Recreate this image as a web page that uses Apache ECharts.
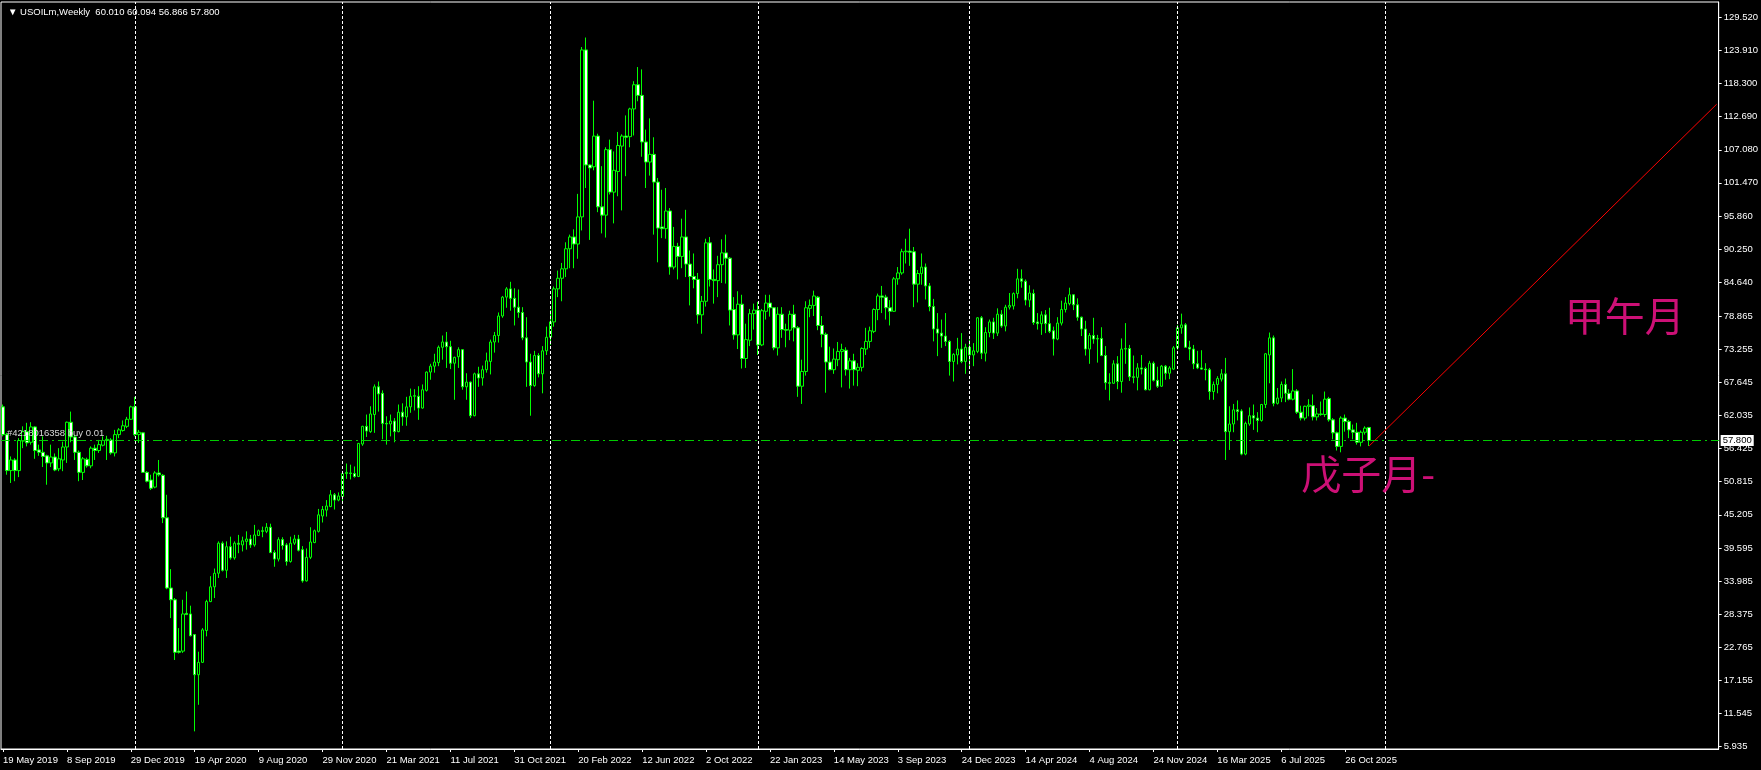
<!DOCTYPE html>
<html><head><meta charset="utf-8">
<script src="https://cdn.jsdelivr.net/npm/echarts@6/dist/echarts.min.js"></script>
<style>html,body{margin:0;padding:0;background:#000;}#c{width:1761px;height:770px;}</style>
</head><body><div id="c"></div><script>
const titleText = '\u25BC USOILm,Weekly  60.010 60.094 56.866 57.800';
const tickLabels = ['19 May 2019','8 Sep 2019','29 Dec 2019','19 Apr 2020','9 Aug 2020','29 Nov 2020','21 Mar 2021','11 Jul 2021','31 Oct 2021','20 Feb 2022','12 Jun 2022','2 Oct 2022','22 Jan 2023','14 May 2023','3 Sep 2023','24 Dec 2023','14 Apr 2024','4 Aug 2024','24 Nov 2024','16 Mar 2025','6 Jul 2025','26 Oct 2025'];
const weeksPerLabel = 16;
const yTicks = [5.935,11.545,17.155,22.765,28.375,33.985,39.595,45.205,50.815,56.425,62.035,67.645,73.255,78.865,84.640,90.250,95.860,101.470,107.080,112.690,118.300,123.910,129.520];
const totalSlots = 430;
const yearSeparators = [33, 85, 137, 189, 242, 294, 346];
const orderPrice = 57.8;
const orderText = '#4218016358 buy 0.01';
const trendLine = [[342, 56.866], [429, 114.8]];
const notes = [{text: '\u7532\u5348\u6708', at: [391, 82.3]}, {text: '\u620A\u5B50\u6708-', at: [325, 55.6]}];

const opens = [63.5,58.8,52.7,54.5,52.7,57.7,59.3,57.5,60.1,56.2,55.8,55.2,54.0,55.0,53.0,54.5,56.7,60.9,58.4,55.8,
52.4,54.6,53.5,56.5,56.1,57.0,57.8,57.9,55.7,58.8,59.5,60.2,61.4,63.5,58.8,59.1,52.4,51.1,49.9,52.3,
51.9,44.7,32.8,30.8,22.1,22.1,28.5,28.4,24.9,18.1,20.2,25.6,30.5,33.0,35.3,40.4,35.8,39.8,37.9,40.4,
40.1,40.7,41.1,40.1,41.7,42.5,42.4,43.1,38.8,37.7,41.0,40.1,37.3,40.4,41.1,39.3,34.0,38.0,40.5,42.4,
45.0,46.0,46.6,48.6,47.7,48.3,52.2,52.3,52.2,51.7,57.2,60.2,59.3,62.2,66.9,65.8,60.7,60.6,61.1,59.3,
62.6,61.8,63.5,65.3,65.3,63.3,66.3,69.4,70.4,71.0,73.6,74.5,73.7,70.9,72.0,73.2,66.9,67.7,62.0,69.1,
68.4,69.8,71.2,74.5,75.6,78.9,82.1,83.5,81.9,80.4,79.5,75.2,71.1,67.1,72.2,69.1,73.0,75.3,77.9,83.5,
85.3,86.9,90.3,92.3,91.1,95.7,124.0,104.5,104.2,109.4,97.4,96.0,107.1,99.9,103.4,107.7,109.4,109.3,114.0,118.1,
116.3,108.4,105.0,106.3,101.6,94.0,93.7,96.7,87.2,90.7,89.0,92.3,87.7,85.6,85.1,79.1,81.4,91.3,85.1,84.9,
87.6,89.6,88.7,80.0,75.7,80.9,71.7,74.8,79.3,79.9,74.0,79.7,81.1,80.3,73.5,79.2,76.6,76.5,79.2,76.9,
67.0,69.5,80.2,80.7,82.1,77.3,75.8,71.1,69.8,71.5,72.9,73.1,69.8,71.3,69.7,70.2,73.3,74.6,76.3,80.0,
82.3,82.1,80.3,79.7,85.2,86.2,89.8,89.9,89.8,84.3,86.1,87.2,84.0,80.5,76.7,76.0,75.5,74.6,71.2,72.3,
73.3,71.2,73.6,72.3,72.9,78.6,72.6,76.1,77.9,76.0,79.2,77.2,80.4,80.6,82.7,85.2,84.8,81.6,82.7,77.9,
77.6,79.1,77.6,76.4,75.0,77.7,80.0,81.0,82.5,80.8,78.7,76.7,73.3,75.6,75.0,75.1,72.2,67.6,67.5,70.8,
67.8,73.3,73.4,68.6,68.5,70.1,70.0,66.4,70.9,68.0,67.0,70.4,69.2,69.9,73.5,76.9,77.4,73.6,73.3,70.8,
70.1,69.9,69.8,66.1,67.3,68.2,69.1,59.3,60.6,63.0,62.8,55.5,60.6,62.0,61.6,61.2,63.9,72.3,75.2,64.1,
65.0,67.3,65.8,64.8,66.2,62.6,61.6,63.6,63.7,61.8,62.3,62.2,64.9,61.3,59.1,56.8,61.6,61.0,59.6,59.2,
57.5,59.2,60.010];
const highs = [63.9,59.1,55.1,54.8,58.2,60.2,60.8,60.9,60.2,57.1,58.5,55.4,57.1,55.6,56.5,57.6,61.0,62.7,58.8,56.1,
55.0,54.9,56.8,57.1,57.9,58.5,58.6,58.2,59.6,59.9,61.2,61.8,63.7,65.2,59.6,59.2,52.6,52.0,52.6,54.5,
52.1,48.6,36.0,31.1,26.0,30.8,32.2,29.8,25.0,22.0,26.0,30.8,34.8,36.1,40.7,40.7,40.7,41.5,40.7,41.8,
41.5,42.4,41.8,43.5,42.7,43.2,43.8,43.7,39.2,41.4,41.4,40.4,41.5,41.8,41.8,39.9,39.5,43.1,42.7,46.2,
46.7,47.7,49.4,48.9,49.0,52.6,53.9,53.7,53.4,57.4,60.3,62.2,63.6,67.3,67.8,66.3,61.9,62.2,61.6,63.9,
64.1,65.2,66.6,66.5,67.0,67.3,69.5,70.8,72.5,73.9,75.6,76.2,74.7,72.0,73.6,73.3,69.2,67.8,69.3,70.3,
70.5,72.7,74.9,76.2,79.5,82.3,83.8,84.7,83.6,83.4,80.4,78.7,72.5,73.0,72.6,73.8,77.1,79.9,83.9,86.6,
87.9,91.4,92.7,93.6,99.6,124.5,126.1,104.6,115.4,109.8,104.3,107.5,108.8,106.8,110.1,109.7,112.9,114.2,118.7,121.1,
120.7,110.5,112.4,109.2,102.3,100.3,100.6,97.2,94.0,91.3,95.4,96.9,90.0,89.5,86.2,82.3,92.0,92.3,86.8,89.1,
91.9,92.7,88.9,82.1,83.1,82.5,77.6,80.1,81.0,81.3,80.1,82.5,82.5,80.4,80.4,80.4,77.6,79.8,80.8,77.2,
71.5,81.4,81.7,83.2,82.3,78.9,76.1,73.7,73.4,74.5,74.2,73.6,71.8,72.5,70.9,73.6,76.9,77.1,80.2,82.7,
84.0,82.5,81.6,85.5,87.2,90.3,92.0,93.7,90.6,86.7,89.5,87.8,84.5,81.8,79.4,78.3,79.4,74.8,72.6,75.2,
76.0,74.2,74.9,74.3,78.7,78.9,77.0,78.3,78.6,80.2,79.9,80.8,82.8,82.9,86.9,86.8,85.1,84.1,83.4,79.4,
79.7,79.9,80.3,77.1,78.7,81.5,82.1,83.7,82.6,81.9,78.8,78.1,76.0,78.6,75.7,77.0,73.8,69.2,71.4,72.1,
75.1,77.7,74.0,72.2,70.9,72.3,70.3,71.3,71.2,70.3,70.6,70.6,70.4,73.8,77.4,79.3,77.7,74.7,74.0,73.0,
73.1,70.9,70.1,67.8,68.7,69.9,71.8,63.6,64.0,64.6,63.1,61.0,63.4,63.9,62.6,64.0,72.6,76.1,75.6,66.7,
67.8,68.3,66.5,69.9,66.5,63.7,63.7,64.8,65.6,63.3,64.4,66.1,65.2,61.6,59.3,61.9,62.2,61.3,60.5,60.8,
59.5,60.2,60.094];
const lows = [58.5,52.0,50.6,50.9,51.6,56.5,56.8,57.1,54.7,55.2,53.3,50.3,53.3,52.6,52.6,52.6,54.0,57.5,54.5,50.9,
51.1,53.2,53.1,54.5,55.7,56.8,54.5,55.4,55.1,58.2,59.3,59.9,61.3,58.5,57.4,52.3,50.7,49.4,49.7,51.7,
43.8,32.6,27.7,20.6,21.7,21.8,28.2,24.6,8.5,13.0,20.1,24.6,30.4,31.1,34.5,35.6,34.5,37.6,37.6,38.7,
39.0,39.3,39.6,39.8,41.6,41.4,42.1,38.7,36.4,37.3,39.3,36.6,37.1,40.1,39.0,33.7,33.9,37.7,40.4,42.2,
43.9,44.9,46.5,46.1,47.5,47.2,51.3,51.2,51.5,51.6,56.9,58.4,59.1,59.1,62.7,58.0,57.1,58.5,57.5,59.2,
60.3,60.3,62.5,62.9,61.3,63.2,66.1,68.1,69.3,70.4,71.5,70.1,69.9,64.7,70.1,66.4,64.7,61.6,61.9,66.9,
67.1,69.3,69.0,72.7,74.4,78.6,80.3,79.8,77.3,78.6,74.8,66.9,62.0,66.9,68.5,65.8,72.3,74.0,77.1,82.1,
81.4,85.5,87.0,87.0,88.6,93.4,100.6,91.8,103.6,96.5,92.9,92.2,99.5,94.6,99.2,96.8,102.6,107.5,109.5,115.3,
105.9,100.6,102.7,92.7,88.0,92.1,92.0,85.9,86.8,85.1,87.0,85.5,80.7,83.6,77.6,75.9,80.5,83.9,81.0,82.1,
84.5,84.4,77.3,74.9,73.3,70.0,70.1,73.8,76.6,72.3,73.8,78.3,78.8,73.1,72.2,75.2,73.6,74.8,74.6,65.2,
64.0,68.8,78.7,78.9,76.5,73.6,65.9,69.7,69.1,70.4,66.8,68.8,66.6,67.1,67.0,69.5,72.3,73.5,76.0,78.2,
79.4,78.3,77.3,79.6,84.2,85.9,87.8,87.4,80.4,81.2,84.2,81.7,79.7,74.6,72.1,73.5,73.8,68.8,67.8,70.7,
70.9,69.1,69.9,70.4,72.6,71.6,71.2,75.3,75.0,75.5,76.9,76.3,80.0,80.0,81.9,83.7,80.7,80.4,77.4,76.6,
75.7,76.0,76.0,72.2,74.8,77.3,79.5,80.7,79.9,78.1,75.5,72.2,70.8,74.2,71.0,72.1,66.4,64.6,67.4,66.5,
65.9,70.8,67.9,67.5,66.3,69.0,66.3,66.3,67.8,66.7,66.9,68.1,68.2,69.8,73.2,75.9,73.5,71.4,69.9,69.9,
69.8,68.0,64.7,64.7,65.8,67.8,54.5,56.2,59.2,61.2,55.3,55.3,60.3,59.6,59.2,61.0,63.3,67.5,63.6,63.9,
64.3,64.3,64.6,64.6,62.3,61.2,61.2,61.9,61.2,61.2,62.0,61.8,61.0,58.0,56.1,55.8,59.3,58.2,58.0,57.1,
56.8,58.8,56.866];
const closes = [58.8,52.7,54.5,52.7,57.8,59.3,57.4,60.1,56.1,55.8,55.1,54.0,55.0,52.8,54.7,56.7,60.9,58.4,55.8,52.4,
54.7,53.5,56.5,56.1,57.1,57.8,58.0,55.7,58.8,59.6,60.3,61.4,63.5,58.8,59.2,52.4,50.9,49.7,52.3,52.0,
44.7,32.8,30.8,21.9,21.9,28.4,28.3,24.7,18.1,20.2,25.7,30.5,33.0,35.3,40.4,35.8,39.8,37.9,40.4,40.2,
40.8,41.1,40.1,41.8,42.5,42.4,43.1,38.8,37.7,41.0,40.0,37.3,40.4,41.1,39.2,34.0,38.0,40.6,42.5,45.2,
46.1,46.7,48.6,47.7,48.4,52.2,52.4,52.2,51.7,57.3,60.2,59.4,62.3,66.9,65.7,60.7,60.6,61.1,59.3,62.6,
61.8,63.5,65.3,65.4,63.3,66.4,69.4,70.4,71.1,73.6,74.5,73.7,70.9,71.9,73.2,66.9,67.7,62.0,69.1,68.4,
69.8,71.3,74.5,75.6,78.9,82.1,83.5,81.9,80.4,79.5,75.2,71.1,67.1,72.2,69.1,73.0,75.3,77.9,83.5,85.3,
86.9,90.3,92.3,91.1,95.7,124.0,104.5,104.0,109.4,97.4,96.0,107.1,99.9,103.6,107.8,109.4,109.2,114.0,118.1,116.3,
108.4,105.0,106.3,101.6,93.8,93.7,96.7,87.2,90.7,89.0,92.3,87.7,85.6,85.1,79.1,81.4,91.3,85.1,84.9,87.6,
89.6,88.7,79.9,75.7,80.9,71.7,74.9,79.3,79.9,74.0,79.8,81.1,80.3,73.5,79.2,76.6,76.5,79.2,76.9,67.0,
69.5,80.3,80.7,82.3,77.3,75.8,71.1,69.8,71.6,72.9,73.2,69.8,71.3,69.8,70.2,73.4,74.6,76.4,80.0,82.3,
82.1,80.3,79.7,85.2,86.2,89.8,89.9,89.7,84.3,86.1,87.2,84.0,80.5,76.7,76.0,75.5,74.6,71.2,72.4,73.3,
71.2,73.6,72.3,73.0,78.6,72.6,76.1,77.9,76.0,79.2,77.2,80.4,80.7,82.7,85.2,84.8,81.6,82.8,77.8,77.6,
79.1,77.6,76.3,75.0,77.7,80.0,81.1,82.5,80.8,78.7,76.7,73.3,75.6,75.0,75.1,72.2,67.6,67.5,70.8,67.8,
73.3,73.4,68.6,68.5,70.1,69.9,66.4,70.9,68.0,67.0,70.4,69.2,70.1,73.5,76.9,77.4,73.6,73.3,70.8,70.1,
69.9,69.8,66.1,67.3,68.3,69.1,59.3,60.6,63.0,62.7,55.5,60.7,62.0,61.6,61.2,63.9,72.5,75.2,64.1,65.0,
67.3,65.8,64.8,66.2,62.6,61.6,63.6,63.8,61.8,62.3,62.2,64.8,61.3,59.1,56.8,61.6,61.0,59.6,59.2,57.5,
59.2,59.9,57.800];

const chart = echarts.init(document.getElementById('c'), null, {renderer: 'canvas'});
const cats = Array.from({length: totalSlots}, (_, i) => String(i));
const candles = opens.map((o, i) => [o, closes[i], lows[i], highs[i]]);
const labelShown = (i) => i % weeksPerLabel === 0 && i / weeksPerLabel < tickLabels.length;
const axisFont = {color: '#ffffff', fontFamily: 'Liberation Sans', fontSize: 9.5};

chart.setOption({
  backgroundColor: '#000000',
  animation: false,
  title: {text: titleText, left: 3, top: 2, textStyle: {color: '#ffffff', fontFamily: 'Liberation Sans', fontSize: 9.5, fontWeight: 'normal'}},
  grid: {left: 1, right: 40, top: 2, bottom: 21, show: true, borderColor: '#ffffff', borderWidth: 1, backgroundColor: 'transparent'},
  xAxis: {
    type: 'category', data: cats, boundaryGap: true,
    axisLine: {show: true, lineStyle: {color: '#ffffff', width: 1}},
    axisTick: {show: true, alignWithLabel: true, length: 3, interval: (i) => labelShown(i), lineStyle: {color: '#ffffff'}},
    axisLabel: Object.assign({show: true, interval: (i) => labelShown(i), align: 'left', margin: 6,
      formatter: (v, i) => tickLabels[i / weeksPerLabel] || ''}, axisFont),
    splitLine: {show: false}
  },
  yAxis: {
    type: 'value', position: 'right', min: 5.51, max: 132.125, scale: true,
    axisLine: {show: true, lineStyle: {color: '#ffffff', width: 1}},
    axisTick: {show: true, length: 3, customValues: yTicks, lineStyle: {color: '#ffffff'}},
    axisLabel: Object.assign({show: true, margin: 5, customValues: yTicks, formatter: (v) => v.toFixed(3)}, axisFont),
    splitLine: {show: false}
  },
  series: [
    {
      type: 'line', z: 1, data: cats.map(() => null), silent: true, symbol: 'none',
      markLine: {
        silent: true, symbol: 'none', animation: false,
        data: [
          ...yearSeparators.map(i => ({xAxis: String(i), lineStyle: {color: '#ffffff', type: [3, 2], width: 1}, label: {show: false}})),
          {yAxis: orderPrice, lineStyle: {color: '#00cc00', type: [9, 4, 2, 4], width: 1},
            label: {show: true, position: 'insideStartTop', formatter: orderText, color: '#d8d8d8', fontFamily: 'Liberation Sans', fontSize: 9.5, distance: [6, 2]}},
          {yAxis: orderPrice, lineStyle: {color: '#00cc00', type: [9, 4, 2, 4], width: 1},
            label: {show: true, position: 'end', formatter: orderPrice.toFixed(3), color: '#000000', backgroundColor: '#ffffff', fontFamily: 'Liberation Sans', fontSize: 9.5, padding: [1, 2, 0, 2], distance: 2}}
        ]
      }
    },
    {
      type: 'candlestick', z: 3, data: candles, barWidth: 3, large: false,
      itemStyle: {color: '#000000', color0: '#ffffff', borderColor: '#00ff00', borderColor0: '#00ff00', borderWidth: 1}
    },
    {
      type: 'line', z: 4, data: trendLine, symbol: 'none', silent: true,
      lineStyle: {color: '#ff0000', width: 1}
    },
    {
      type: 'scatter', z: 5, symbolSize: 0, silent: true,
      data: notes.map(n => ({value: n.at, name: n.text})),
      label: {show: true, position: [0, 0], align: 'left', verticalAlign: 'top', formatter: (p) => p.name,
        color: '#ff1493', fontFamily: 'Noto Sans CJK SC', fontSize: 40}
    }
  ]
});
</script></body></html>
